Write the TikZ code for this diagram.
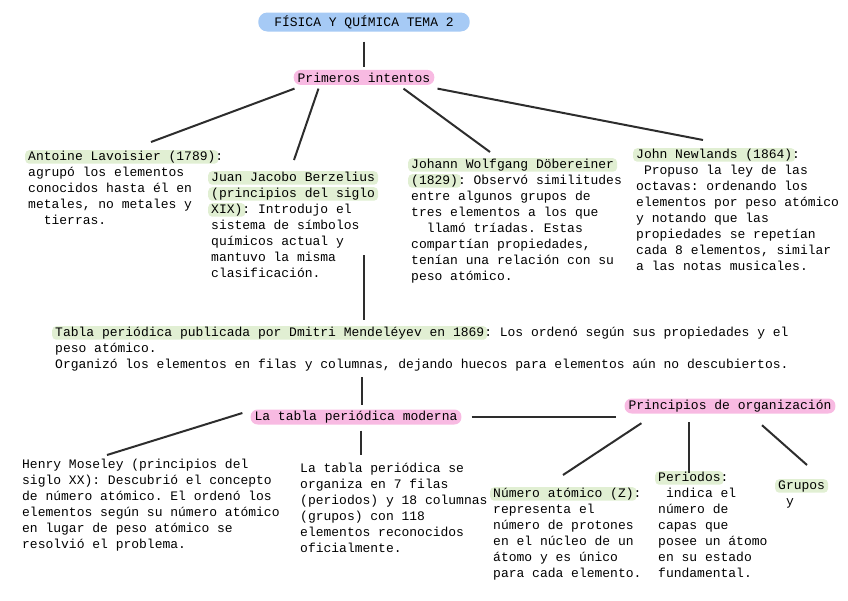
\documentclass[tikz,border=0pt]{standalone}
\usepackage{fontspec}
\setmonofont{Liberation Mono}
\usetikzlibrary{positioning}
\definecolor{temablue}{RGB}{166,202,245}
\definecolor{pillpink}{RGB}{248,186,226}
\definecolor{hlgreen}{RGB}{225,239,211}
\definecolor{linkgray}{RGB}{45,45,45}
\tikzset{
  pill/.style={rectangle, rounded corners=7pt, fill=pillpink, inner xsep=4pt, inner ysep=0pt,
    minimum height=15pt, font=\ttfamily\fontsize{13}{16}\selectfont},
  topic/.style={pill, fill=temablue, rounded corners=9pt, minimum height=19pt, inner xsep=16pt},
  note/.style={anchor=north west, align=left, inner sep=0pt,
    font=\ttfamily\fontsize{13}{16}\selectfont, execute at begin node={\rule{0pt}{10.5pt}}},
  hlbox/.style={fill=hlgreen, rounded corners=4pt, inner xsep=3pt, inner ysep=0pt,
    text height=10pt, text depth=3.5pt},
  link/.style={draw=linkgray, line width=2pt},
}
\newcommand{\hl}[1]{\hspace*{-3pt}\tikz[baseline=(h.base)]\node[hlbox] (h) {#1};\hspace*{-3pt}}

\begin{document}
\begin{tikzpicture}[x=1pt, y=-1pt]
  \useasboundingbox (0,0) rectangle (848,600);

  % Tema y primeros intentos
  \node[topic] (tema) at (364,22) {FÍSICA Y QUÍMICA TEMA 2};
  \node[pill, below=38pt of tema] (intentos) {Primeros intentos};

  \node[note] (lavoisier) at (28,150) {\hl{Antoine Lavoisier (1789)}:\\
    agrupó los elementos\\ conocidos hasta él en\\ metales, no metales y\\ \hspace*{15.6pt}tierras.};
  \node[note] (berzelius) at (211,171) {\hl{Juan Jacobo Berzelius}\\
    \hl{(principios del siglo}\\ \hl{XIX)}: Introdujo el\\ sistema de símbolos\\
    químicos actual y\\ mantuvo la misma\\ clasificación.};
  \node[note] (dobereiner) at (411,158) {\hl{Johann Wolfgang Döbereiner}\\
    \hl{(1829)}: Observó similitudes\\ entre algunos grupos de\\ tres elementos a los que\\
    \hspace*{15.6pt}llamó tríadas. Estas\\ compartían propiedades,\\ tenían una relación con su\\ peso atómico.};
  \node[note] (newlands) at (636,148) {\hl{John Newlands (1864)}:\\
    \hspace*{7.8pt}Propuso la ley de las\\ octavas: ordenando los\\ elementos por peso atómico\\
    y notando que las\\ propiedades se repetían\\ cada 8 elementos, similar\\ a las notas musicales.};

  % Mendeléyev
  \node[note] (mendeleev) at (55,326) {\hl{Tabla periódica publicada por Dmitri Mendeléyev en 1869}: Los ordenó según sus propiedades y el\\
    peso atómico.\\
    Organizó los elementos en filas y columnas, dejando huecos para elementos aún no descubiertos.};

  % Tabla moderna
  \node[pill] (tabla) at (356,417) {La tabla periódica moderna};
  \node[pill] (principios) at (730,406) {Principios de organización};

  \node[note] (moseley) at (22,459) {Henry Moseley (principios del\\
    siglo XX): Descubrió el concepto\\ de número atómico. El ordenó los\\
    elementos según su número atómico\\ en lugar de peso atómico se\\ resolvió el problema.};
  \node[note] (grupos18) at (300,463) {La tabla periódica se\\ organiza en 7 filas\\
    (periodos) y 18 columnas\\ (grupos) con 118\\ elementos reconocidos\\ oficialmente.};
  \node[note] (numero) at (493,487) {\hl{Número atómico (Z)}:\\ representa el\\
    número de protones\\ en el núcleo de un\\ átomo y es único\\ para cada elemento.};
  \node[note] (periodos) at (658,471) {\hl{Periodos}:\\ \hspace*{7.8pt}indica el\\
    número de\\ capas que\\ posee un átomo\\ en su estado\\ fundamental.};
  \node[note] (grupos) at (778,479) {\hl{Grupos}\\ \hspace*{7.8pt}y};

  % Conectores
  \draw[link, shorten <=10pt, shorten >=3pt] (tema.south) -- (intentos.north);
  \draw[link] ([xshift=1pt,yshift=-3.5pt]intentos.south west) -- ([xshift=123pt,yshift=8pt]lavoisier.north west);
  \draw[link] ([xshift=25pt,yshift=-3.5pt]intentos.south west) -- ([xshift=83pt,yshift=11pt]berzelius.north west);
  \draw[link] ([xshift=110pt,yshift=-3.5pt]intentos.south west) -- ([xshift=79pt,yshift=6pt]dobereiner.north west);
  \draw[link] ([xshift=3pt,yshift=-3.5pt]intentos.south east) -- ([xshift=67pt,yshift=8pt]newlands.north west);
  \draw[link] ([yshift=71pt]intentos.south |- mendeleev.north) -- ([yshift=6pt]intentos.south |- mendeleev.north);
  \draw[link] ([xshift=6pt,yshift=-6pt]tabla.north |- mendeleev.south) -- ([xshift=6pt,yshift=4pt]tabla.north);
  \draw[link, shorten <=10pt, shorten >=8pt] (tabla.east) -- (tabla.east -| principios.west);
  \draw[link] ([xshift=-8pt,yshift=4pt]tabla.west) -- ([xshift=85pt,yshift=4pt]moseley.north west);
  \draw[link] ([xshift=5pt,yshift=-6pt]tabla.south) -- ([xshift=5pt,yshift=8pt]tabla.south |- grupos18.north);
  \draw[link] ([xshift=17pt,yshift=-9.5pt]principios.south west) -- ([xshift=70pt,yshift=12pt]numero.north west);
  \draw[link] ([xshift=-41pt,yshift=-8.5pt]principios.south) -- ([xshift=31pt,yshift=-2pt]periodos.north west);
  \draw[link] ([xshift=32pt,yshift=-11.5pt]principios.south) -- ([xshift=29pt,yshift=14pt]grupos.north west);

\end{tikzpicture}
\end{document}
